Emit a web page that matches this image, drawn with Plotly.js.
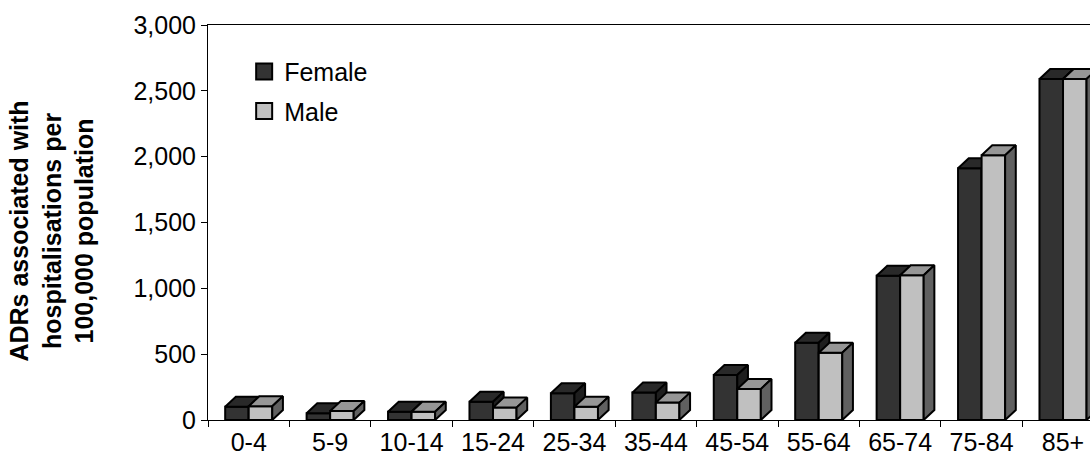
<!DOCTYPE html>
<html>
<head>
<meta charset="utf-8">
<script src="https://cdn.plot.ly/plotly-3.0.1.min.js"></script>
<style>html,body{margin:0;padding:0;background:#fff;}#chart{width:1090px;height:460px;}</style>
</head>
<body>
<div id="chart"></div>
<script>
const categories = ['0-4','5-9','10-14','15-24','25-34','35-44','45-54','55-64','65-74','75-84','85+'];
const female = [101, 51, 63, 139, 203, 208, 342, 587, 1096, 1912, 2590];
const male   = [105, 68, 63, 94, 101, 132, 235, 511, 1100, 2010, 2590];
const yTicks = [0, 500, 1000, 1500, 2000, 2500, 3000];

// 3D-look style parameters (not data)
const barW = 0.289;   // bar width in category units
const dx = 0.131;     // depth offset in category units
const dy = 76;        // depth offset in value units
const FONT = 'Liberation Sans, Arial, sans-serif';

function faces(values, offset) {
  const front = {x: [], y: []}, top = {x: [], y: []}, side = {x: [], y: []};
  values.forEach((v, i) => {
    const x0 = i + offset, x1 = x0 + barW;
    const push = (o, pts) => {
      pts.forEach(p => { o.x.push(p[0]); o.y.push(p[1]); });
      o.x.push(pts[0][0]); o.y.push(pts[0][1]);
      o.x.push(null); o.y.push(null);
    };
    push(front, [[x0, 0], [x1, 0], [x1, v], [x0, v]]);
    push(top, [[x0, v], [x1, v], [x1 + dx, v + dy], [x0 + dx, v + dy]]);
    push(side, [[x1, 0], [x1 + dx, dy], [x1 + dx, v + dy], [x1, v]]);
  });
  return {front, top, side};
}

function faceTraces(values, offset, colors) {
  const f = faces(values, offset);
  return ['front', 'top', 'side'].map((k, j) => ({
    type: 'scatter', mode: 'lines', x: f[k].x, y: f[k].y,
    fill: 'toself', fillcolor: colors[j],
    line: {color: '#000', width: 2},
    hoverinfo: 'skip', showlegend: false, connectgaps: false
  }));
}

const femaleColors = ['#333333', '#292929', '#1e1e1e'];
const maleColors = ['#c0c0c0', '#969696', '#606060'];

const data = [
  ...faceTraces(female, -barW, femaleColors),
  ...faceTraces(male, 0, maleColors),
  {type: 'scatter', mode: 'markers', x: [null], y: [null], name: 'Female', legendgroup: 'f',
   marker: {symbol: 'square', size: 16, color: femaleColors[0], line: {color: '#000', width: 2}}},
  {type: 'scatter', mode: 'markers', x: [null], y: [null], name: 'Male', legendgroup: 'm',
   marker: {symbol: 'square', size: 16, color: maleColors[0], line: {color: '#000', width: 2}}}
];

const boundaries = categories.map((c, i) => i - 0.5);
const plotW = 1090 - 208;
const pxPerCat = 81.43;

const layout = {
  width: 1090, height: 460,
  margin: {l: 208, r: 0, t: 25, b: 40},
  paper_bgcolor: '#fff', plot_bgcolor: '#fff',
  font: {family: FONT, size: 25, color: '#000'},
  showlegend: true,
  legend: {x: 0.041, y: 0.94, xanchor: 'left', yanchor: 'top',
           traceorder: 'grouped', tracegroupgap: 4,
           font: {family: FONT, size: 25, color: '#000'}, bgcolor: 'rgba(0,0,0,0)'},
  xaxis: {
    range: [-0.5, -0.5 + plotW / pxPerCat],
    tickmode: 'array', tickvals: categories.map((c, i) => i), ticktext: categories,
    ticks: '', showgrid: false, zeroline: false,
    showline: true, linecolor: '#000', linewidth: 1, mirror: true,
    minor: {tickmode: 'array', tickvals: boundaries, ticks: 'outside', ticklen: 6,
            tickcolor: '#000', tickwidth: 1, showgrid: false},
    tickfont: {family: FONT, size: 25, color: '#000'},
    fixedrange: true
  },
  yaxis: {
    range: [0, 3000], tickmode: 'array', tickvals: yTicks,
    tickformat: ',d', ticks: 'outside', ticklen: 6, tickcolor: '#000', tickwidth: 1,
    showgrid: false, zeroline: false, showline: true, linecolor: '#000', linewidth: 1,
    tickfont: {family: FONT, size: 25, color: '#000'},
    fixedrange: true
  },
  annotations: [{
    text: '<b>ADRs associated with</b><br><b>hospitalisations per</b><br><b>100,000 population</b>',
    xref: 'paper', yref: 'paper', x: -0.1776, y: 0.478,
    xanchor: 'center', yanchor: 'middle', textangle: -90, showarrow: false,
    font: {family: FONT, size: 25, color: '#000'}
  }]
};

Plotly.newPlot('chart', data, layout, {displayModeBar: false, staticPlot: true});
</script>
</body>
</html>
